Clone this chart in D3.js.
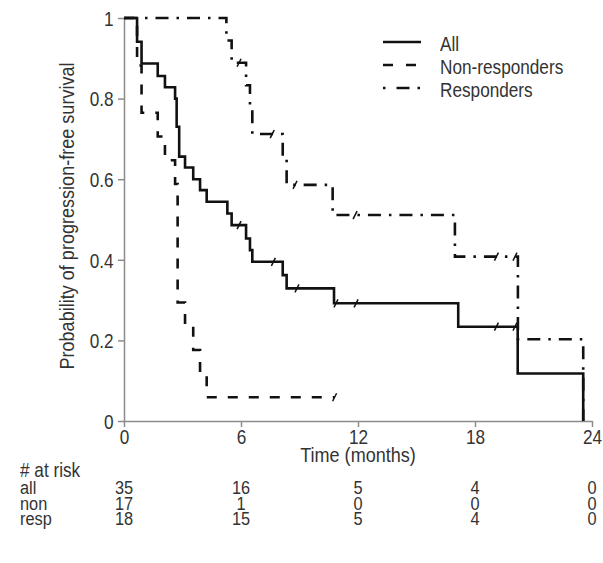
<!DOCTYPE html>
<html>
<head>
<meta charset="utf-8">
<script src="https://cdn.jsdelivr.net/npm/d3@7"></script>
<style>
  body { margin: 0; background: #fff; }
  svg text { font-family: "Liberation Sans", Arial, sans-serif; fill: #333; }
</style>
</head>
<body>
<div id="chart"></div>
<script>
// Kaplan-Meier step values
var allTime = [0, 0.67, 0.9, 1.73, 2.1, 2.62, 2.7, 2.83, 3.13, 3.55, 3.9, 4.24, 5.3, 5.52, 6.26, 6.46, 6.58, 8.14, 8.34, 10.77, 17.14, 20.19, 23.55];
var allSurv = [1, 0.941, 0.887, 0.856, 0.828, 0.8, 0.73, 0.656, 0.629, 0.6, 0.573, 0.544, 0.515, 0.486, 0.453, 0.424, 0.395, 0.362, 0.329, 0.292, 0.234, 0.118, 0];

var nonTime = [0, 0.67, 0.9, 1.73, 2.1, 2.62, 2.75, 3.13, 3.55, 3.9, 4.24, 10.8];
var nonSurv = [1, 0.882, 0.765, 0.706, 0.647, 0.588, 0.294, 0.235, 0.176, 0.118, 0.059, 0.059];

var respTime = [0, 5.25, 5.52, 6.26, 6.46, 6.58, 8.14, 8.34, 10.7, 16.97, 20.2, 23.55];
var respSurv = [1, 0.944, 0.889, 0.833, 0.778, 0.712, 0.655, 0.586, 0.511, 0.408, 0.203, 0];

// censoring marks
var allCensT = [5.9, 7.66, 8.87, 10.87, 11.9, 19.1, 20.05];
var allCensS = [0.486, 0.395, 0.329, 0.292, 0.292, 0.234, 0.234];
var nonCensT = [10.8];
var nonCensS = [0.059];
var respCensT = [5.9, 7.6, 8.77, 11.85, 19.1, 20.05];
var respCensS = [0.889, 0.712, 0.586, 0.511, 0.408, 0.408];

// number at risk table
var riskTimes = [0, 6, 12, 18, 24];
var riskAll = [35, 16, 5, 4, 0];
var riskNon = [17, 1, 0, 0, 0];
var riskResp = [18, 15, 5, 4, 0];
var riskLabels = ["all", "non", "resp"];

var xTicks = [0, 6, 12, 18, 24];
var yTicks = [0, 0.2, 0.4, 0.6, 0.8, 1];
var legendNames = ["All", "Non-responders", "Responders"];

var width = 603, height = 563;
var axisGrey = "#8c8c8c";
var fs = 20;          // font size
var squeeze = 0.86;   // condensed look, narrow fonts are not installed

var svg = d3.select("#chart").append("svg")
  .attr("width", width)
  .attr("height", height);

var x = d3.scaleLinear().domain([0, 24]).range([124, 592]);
var y = d3.scaleLinear().domain([0, 1]).range([421, 18]);

// text helper, squeezed horizontally
function label(px, py, str, anchor, rot, size) {
  return svg.append("text")
    .attr("transform", `translate(${px},${py})` + (rot ? ` rotate(${rot})` : "") + ` scale(${squeeze},1)`)
    .attr("text-anchor", anchor || "start")
    .attr("font-size", size || fs)
    .text(str);
}

/** axes */
var yAxis = svg.append("g")
  .attr("transform", "translate(124,0)")
  .call(d3.axisLeft(y).tickValues(yTicks).tickSize(6).tickSizeOuter(0).tickPadding(4)
    .tickFormat(d => (d === 0 || d === 1) ? d : d.toFixed(1)));

var xAxis = svg.append("g")
  .attr("transform", "translate(0,421)")
  .call(d3.axisBottom(x).tickValues(xTicks).tickSize(6).tickSizeOuter(0).tickPadding(3));

[xAxis, yAxis].forEach(function (g) {
  g.select(".domain").attr("stroke", axisGrey).attr("stroke-width", 1.5);
  g.selectAll(".tick line").attr("stroke", axisGrey).attr("stroke-width", 1.5);
  g.selectAll(".tick text").attr("font-size", fs).attr("fill", "#333")
    .attr("transform", `scale(${squeeze},1)`)
    .style("font-family", '"Liberation Sans", Arial, sans-serif');
});
yAxis.selectAll(".tick text").attr("x", -12).attr("dy", "0.36em");

label(74, 216, "Probability of progression-free survival", "middle", -90, 21);
label(x(12), 462, "Time (months)", "middle", null, 21);

/** survival curves */
var line = d3.line()
  .x(d => x(d[0]))
  .y(d => y(d[1]))
  .curve(d3.curveStepAfter);

var curves = [
  { t: allTime, s: allSurv, dash: null, ct: allCensT, cs: allCensS },
  { t: nonTime, s: nonSurv, dash: "10,11", ct: nonCensT, cs: nonCensS },
  { t: respTime, s: respSurv, dash: "13,8,2.5,8", ct: respCensT, cs: respCensS }
];

curves.forEach(function (c) {
  svg.append("path")
    .datum(d3.zip(c.t, c.s))
    .attr("d", line)
    .attr("fill", "none")
    .attr("stroke", "#111")
    .attr("stroke-width", 2.6)
    .attr("stroke-dasharray", c.dash);

  svg.selectAll(null)
    .data(d3.zip(c.ct, c.cs))
    .enter()
    .append("line")
    .attr("x1", d => x(d[0]) - 2).attr("y1", d => y(d[1]) + 4)
    .attr("x2", d => x(d[0]) + 2).attr("y2", d => y(d[1]) - 4)
    .attr("stroke", "#111")
    .attr("stroke-width", 1.5);
});

/** legend */
var legendDash = [null, "10,13", "2.5,11,13,8,2.5"];
legendNames.forEach(function (name, i) {
  var ly = 42 + i * 23;
  svg.append("line")
    .attr("x1", 383).attr("x2", 421)
    .attr("y1", ly).attr("y2", ly)
    .attr("stroke", "#111")
    .attr("stroke-width", 2.6)
    .attr("stroke-dasharray", legendDash[i]);
  label(440, ly + 9, name);
});

/** number at risk */
label(20, 477, "# at risk");

var riskRows = [riskAll, riskNon, riskResp];
riskRows.forEach(function (row, i) {
  var ry = 494 + i * 15.5;
  label(20, ry, riskLabels[i], "start", null, 19);
  d3.zip(riskTimes, row).forEach(function (d) {
    label(x(d[0]), ry, d[1], "middle", null, 19);
  });
});
</script>
</body>
</html>
